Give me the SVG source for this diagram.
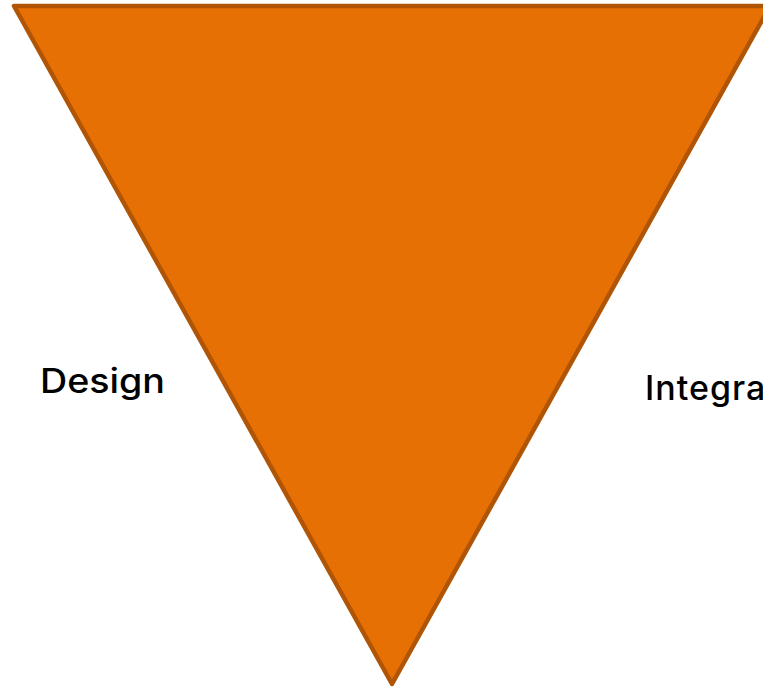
<svg xmlns="http://www.w3.org/2000/svg" width="763" height="689" viewBox="0 0 763 689">
  <style>
    .label { font-family: "Inter", "DejaVu Sans", sans-serif; font-size: 34px; font-weight: 500; fill: #000000; }
    .tri { fill: #E77004; stroke: #B05505; stroke-width: 4.5; stroke-linejoin: round; }
  </style>
  <rect width="763" height="689" fill="#FFFFFF"/>
  <g id="triangle">
    <polygon class="tri" points="14,6 770,6 392,684"/>
  </g>
  <g id="label-design">
    <text class="label" x="40" y="393" textLength="125" lengthAdjust="spacingAndGlyphs">Design</text>
  </g>
  <g id="label-integration">
    <text class="label" x="645" y="400" letter-spacing="1">Integration</text>
  </g>
  <g id="connectors"/>
</svg>
